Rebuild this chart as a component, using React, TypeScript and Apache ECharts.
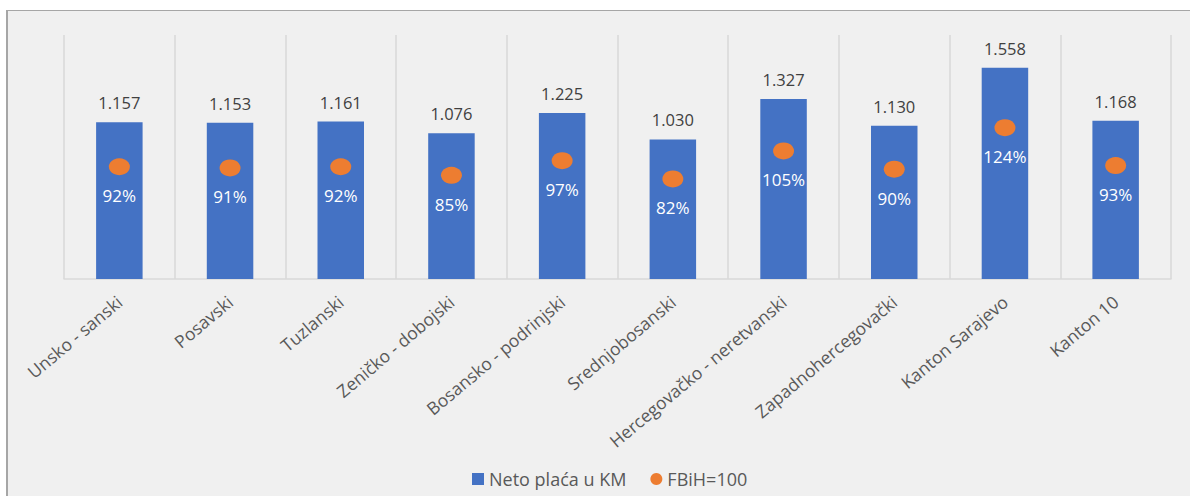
import React, { useEffect, useRef } from "react";
import * as echarts from "echarts";

const categories = [
  "Unsko - sanski",
  "Posavski",
  "Tuzlanski",
  "Zeničko - dobojski",
  "Bosansko - podrinjski",
  "Srednjobosanski",
  "Hercegovačko - neretvanski",
  "Zapadnohercegovački",
  "Kanton Sarajevo",
  "Kanton 10",
];
const netoPlaca = [1157, 1153, 1161, 1076, 1225, 1030, 1327, 1130, 1558, 1168];
const fbihIndex = [92, 91, 92, 85, 97, 82, 105, 90, 124, 93];
const seriesNames = ["Neto plaća u KM", "FBiH=100"];

const FONT = "'Open Sans', 'Noto Sans', sans-serif";

function fmtThousands(v: number): string {
  return String(v).replace(/\B(?=(\d{3})+(?!\d))/g, ".");
}

export default function App() {
  const ref = useRef<HTMLDivElement>(null);
  useEffect(() => {
    if (!ref.current) return;
    const chart = echarts.init(ref.current, undefined, { renderer: "svg" });
    chart.setOption({
      animation: false,
      backgroundColor: "transparent",
      textStyle: { fontFamily: FONT },
      grid: { left: 64, right: 19, top: 35, bottom: 217, containLabel: false },
      legend: {
        left: 467,
        top: 465,
        itemGap: 24,
        itemWidth: 12,
        itemHeight: 12,
        textStyle: { fontFamily: FONT, fontSize: 18, color: "#595959" },
        data: [
          { name: seriesNames[0], icon: "rect" },
          { name: seriesNames[1], icon: "circle" },
        ],
      },
      xAxis: {
        type: "category",
        data: categories,
        axisLine: { lineStyle: { color: "#d9d9d9", width: 1.5 } },
        axisTick: { show: false },
        splitLine: { show: true, lineStyle: { color: "#d9d9d9", width: 1.5 } },
        axisLabel: {
          rotate: 40,
          interval: 0,
          margin: 20,
          fontFamily: FONT,
          fontSize: 17.5,
          color: "#595959",
        },
      },
      yAxis: [
        { type: "value", min: 0, max: 1800, show: false, splitLine: { show: false } },
        { type: "value", min: 0, max: 200, show: false, splitLine: { show: false } },
      ],
      series: [
        {
          name: seriesNames[0],
          type: "bar",
          data: netoPlaca,
          barWidth: "42%",
          itemStyle: { color: "#4472c4" },
          label: {
            show: true,
            position: "top",
            distance: 11,
            fontFamily: FONT,
            fontSize: 16.5,
            color: "#404040",
            formatter: (p: any) => fmtThousands(p.value),
          },
        },
        {
          name: seriesNames[1],
          type: "scatter",
          yAxisIndex: 1,
          data: fbihIndex,
          symbol: "circle",
          symbolSize: [21, 17],
          itemStyle: { color: "#ed7d31", opacity: 1 },
          label: {
            show: true,
            position: "bottom",
            distance: 12,
            fontFamily: FONT,
            fontSize: 17,
            color: "#ffffff",
            formatter: (p: any) => p.value + "%",
          },
        },
      ],
    });
    return () => chart.dispose();
  }, []);

  return (
    <div
      style={{
        position: "fixed",
        left: 0,
        top: 0,
        width: 1190,
        height: 496,
        background: "#ffffff",
        overflow: "hidden",
      }}
    >
      <div
        style={{
          position: "absolute",
          left: 6,
          top: 10,
          right: 0,
          bottom: 0,
          background: "#f0f0f0",
          borderTop: "1px solid #a6a6a6",
          borderLeft: "2px solid #a6a6a6",
        }}
      />
      <div
        ref={ref}
        style={{ position: "absolute", left: 0, top: 0, width: 1190, height: 496 }}
      />
    </div>
  );
}
